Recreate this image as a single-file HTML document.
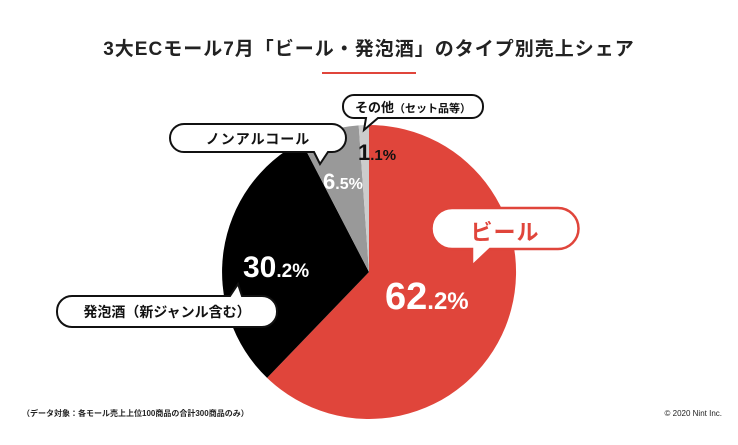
<!DOCTYPE html>
<html><head><meta charset="utf-8"><style>
body{margin:0;width:738px;height:440px;background:#fff;overflow:hidden;font-family:"Liberation Sans","Noto Sans CJK JP",sans-serif}
</style></head><body>
<svg width="738" height="440" xmlns="http://www.w3.org/2000/svg" font-family="'Liberation Sans','Noto Sans CJK JP',sans-serif">
<text x="369" y="55" text-anchor="middle" font-size="19" font-weight="bold" fill="#222" letter-spacing="1">3大ECモール7月「ビール・発泡酒」のタイプ別売上シェア</text>
<rect x="322" y="72" width="94" height="2" fill="#e0453b"/>
<path d="M369,272 L369,125 A147,147 0 1 1 267.1,377.9 Z" fill="#e0453b"/>
<path d="M369,272 L267.1,377.9 A147,147 0 0 1 301.4,141.5 Z" fill="#000"/>
<path d="M369,272 L301.4,141.5 A147,147 0 0 1 358.7,125.4 Z" fill="#999"/>
<path d="M369,272 L358.7,125.4 A147,147 0 0 1 369,125 Z" fill="#ccc"/>
<!-- bubbles -->
<path d="M452,208 H558 A20.5,20.5 0 0 1 558,249 H490 L472,266 L472,249 H452 A20.5,20.5 0 0 1 452,208 Z" fill="#fff" stroke="#e0453b" stroke-width="2.5"/>
<text x="505" y="240" text-anchor="middle" font-size="22" font-weight="bold" fill="#e0453b" letter-spacing="1">ビール</text>
<path d="M354,95 H472 A11,11 0 0 1 483,106 V107 A11,11 0 0 1 472,118 H378 L364,130 L366,118 H354 A11,11 0 0 1 343,107 V106 A11,11 0 0 1 354,95 Z" fill="#fff" stroke="#111" stroke-width="2"/>
<text x="413" y="112" text-anchor="middle" font-size="13" font-weight="bold" fill="#111">その他<tspan font-size="11">（セット品等）</tspan></text>
<path d="M184,124 H332 A14,14 0 0 1 346,138 A14,14 0 0 1 332,152 H328 L320,164 L314,152 H184 A14,14 0 0 1 170,138 A14,14 0 0 1 184,124 Z" fill="#fff" stroke="#111" stroke-width="2"/>
<text x="258" y="144" text-anchor="middle" font-size="14" font-weight="bold" fill="#111" letter-spacing="1">ノンアルコール</text>
<path d="M72,296 H230 L238,284 L242,296 H262 A15,15 0 0 1 277,311 V312 A15,15 0 0 1 262,327 H72 A15,15 0 0 1 57,312 V311 A15,15 0 0 1 72,296 Z" fill="#fff" stroke="#111" stroke-width="2"/>
<text x="167" y="317" text-anchor="middle" font-size="14" font-weight="bold" fill="#111">発泡酒（新ジャンル含む）</text>
<!-- values -->
<text x="385" y="309" font-size="38" font-weight="bold" fill="#fff">62<tspan font-size="24">.2%</tspan></text>
<text x="243" y="277" font-size="30" font-weight="bold" fill="#fff">30<tspan font-size="19">.2%</tspan></text>
<text x="323" y="189" font-size="22" font-weight="bold" fill="#fff">6<tspan font-size="16">.5%</tspan></text>
<text x="358" y="160" font-size="22" font-weight="bold" fill="#111">1<tspan font-size="15">.1%</tspan></text>
<text x="22" y="416" font-size="8" font-weight="bold" fill="#222">（データ対象：各モール売上上位100商品の合計300商品のみ）</text>
<text x="722" y="416" text-anchor="end" font-size="8" fill="#222">© 2020 Nint Inc.</text>
</svg>
</body></html>
